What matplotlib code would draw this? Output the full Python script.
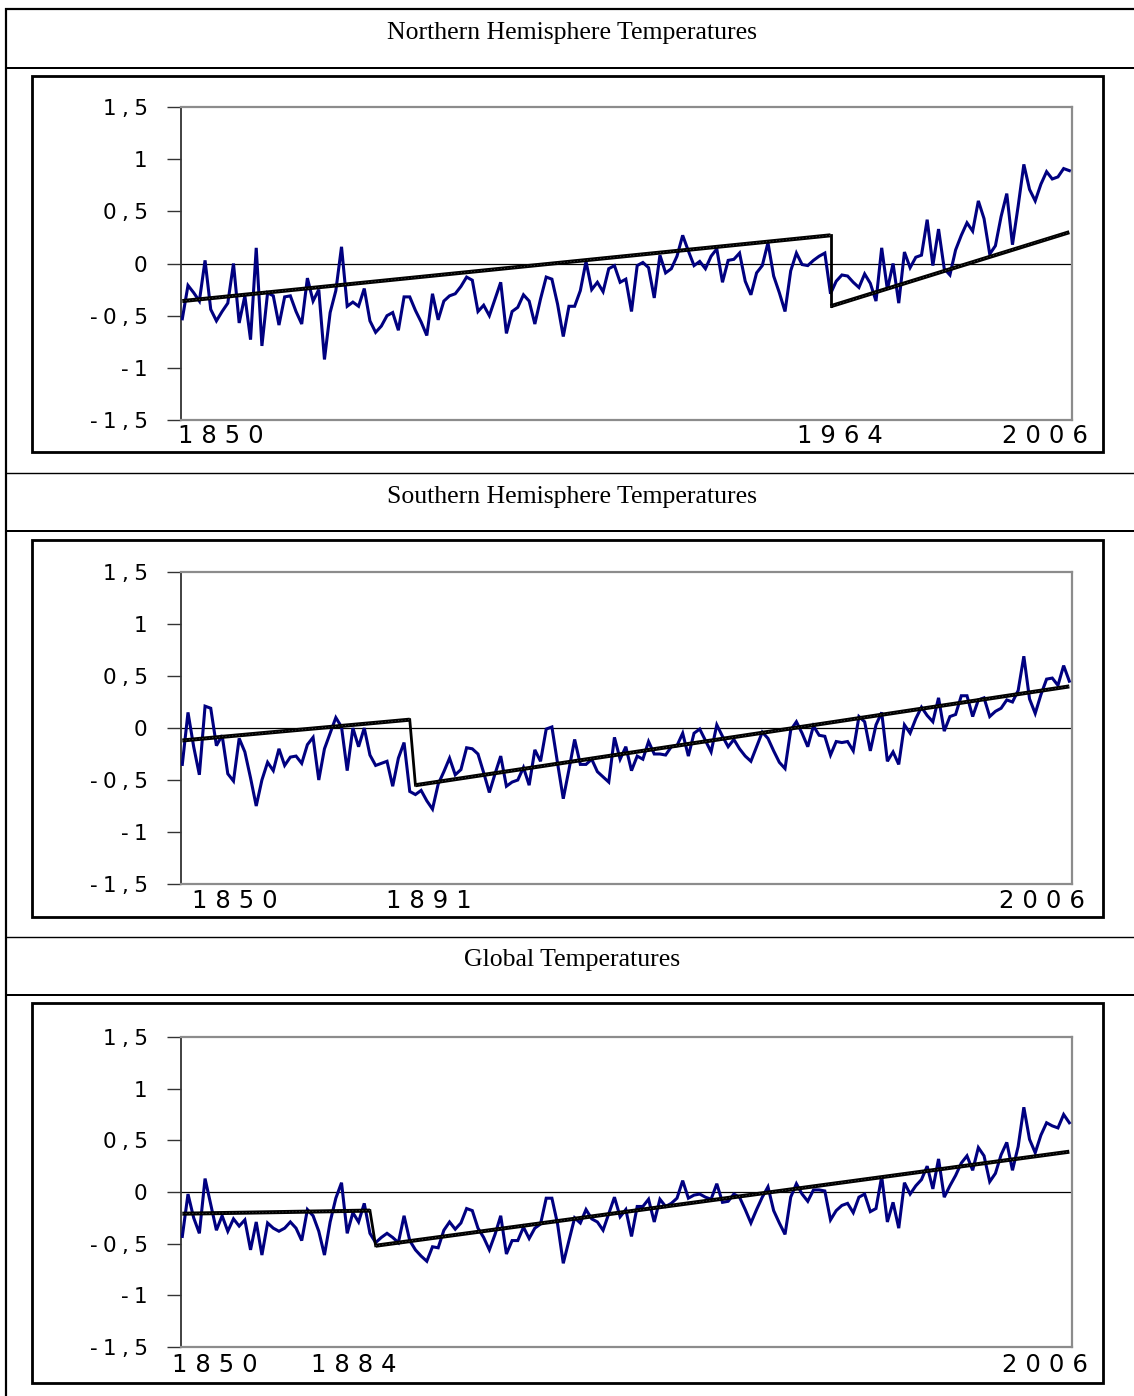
import matplotlib
matplotlib.use("Agg")
import matplotlib.pyplot as plt
from matplotlib.lines import Line2D
from matplotlib.patches import Rectangle

# ---------------- data ----------------
years = list(range(1850, 2007))

nh = [-0.53, -0.21, -0.28, -0.36, 0.03, -0.44, -0.55, -0.46, -0.38, 0.00,
      -0.57, -0.31, -0.73, 0.15, -0.79, -0.28, -0.31, -0.59, -0.32, -0.31,
      -0.46, -0.58, -0.14, -0.36, -0.25, -0.92, -0.47, -0.26, 0.16, -0.41,
      -0.37, -0.41, -0.24, -0.55, -0.66, -0.60, -0.50, -0.47, -0.64, -0.32,
      -0.32, -0.45, -0.56, -0.69, -0.29, -0.54, -0.36, -0.31, -0.29, -0.22,
      -0.13, -0.16, -0.46,
      -0.40, -0.50, -0.34, -0.18, -0.67, -0.46, -0.42, -0.30, -0.36, -0.58,
      -0.34, -0.13, -0.15, -0.39, -0.70, -0.41, -0.41, -0.26, 0.02, -0.25,
      -0.18, -0.27, -0.05, -0.02, -0.18, -0.15, -0.46, -0.02, 0.01, -0.04,
      -0.33, 0.08, -0.09, -0.05, 0.07, 0.27, 0.12, -0.02, 0.02, -0.05,
      0.07, 0.14, -0.18, 0.03, 0.04, 0.10, -0.17, -0.30, -0.09, -0.02,
      0.20, -0.12, -0.28,
      -0.46, -0.07, 0.10, -0.01, -0.02, 0.03, 0.07, 0.10, -0.29, -0.17,
      -0.11, -0.12, -0.18, -0.23, -0.10, -0.19, -0.36, 0.15, -0.25, 0.00,
      -0.38, 0.11, -0.04, 0.06, 0.08, 0.42, -0.02, 0.33, -0.05, -0.11,
      0.13, 0.27, 0.39, 0.31, 0.60, 0.43, 0.09, 0.17, 0.45, 0.67,
      0.18, 0.55, 0.95, 0.71, 0.60, 0.76, 0.88, 0.81, 0.83, 0.91,
      0.89]

sh = [-0.35, 0.15, -0.18, -0.45, 0.21, 0.19, -0.17, -0.07, -0.44, -0.51,
      -0.10, -0.23, -0.48, -0.75, -0.50, -0.33, -0.41, -0.20, -0.36, -0.28,
      -0.27, -0.34, -0.16, -0.09, -0.50, -0.20, -0.05, 0.10, 0.01, -0.41,
      0.00, -0.18, 0.00, -0.26, -0.36, -0.34, -0.32, -0.56, -0.29, -0.14,
      -0.61, -0.64, -0.60, -0.70, -0.78, -0.54, -0.42, -0.29, -0.45, -0.40,
      -0.19, -0.20, -0.25,
      -0.43, -0.62, -0.44, -0.27, -0.56, -0.52, -0.50, -0.38, -0.55, -0.21,
      -0.32, -0.01, 0.01, -0.34, -0.68, -0.40, -0.11, -0.35, -0.35, -0.30,
      -0.42, -0.47, -0.52, -0.09, -0.30, -0.18, -0.41, -0.27, -0.30, -0.13,
      -0.25, -0.25, -0.26, -0.18, -0.17, -0.05, -0.27, -0.05, -0.01, -0.12,
      -0.23, 0.03, -0.08, -0.18, -0.11, -0.20, -0.27, -0.32, -0.18, -0.04,
      -0.10, -0.22, -0.33,
      -0.39, -0.02, 0.06, -0.05, -0.18, 0.02, -0.07, -0.08, -0.26, -0.13,
      -0.14, -0.13, -0.22, 0.11, 0.06, -0.22, 0.03, 0.15, -0.32, -0.23,
      -0.35, 0.03, -0.05, 0.09, 0.20, 0.12, 0.06, 0.29, -0.03, 0.11,
      0.13, 0.31, 0.31, 0.11, 0.27, 0.29, 0.11, 0.16, 0.19, 0.27,
      0.25, 0.36, 0.69, 0.28, 0.14, 0.32, 0.47, 0.48, 0.41, 0.60,
      0.45]

gl = [-0.43, -0.02, -0.25, -0.40, 0.13, -0.12, -0.37, -0.23, -0.38, -0.26,
      -0.33, -0.27, -0.56, -0.29, -0.61, -0.30, -0.35, -0.38, -0.35, -0.29,
      -0.35, -0.47, -0.17, -0.23, -0.38, -0.61, -0.29, -0.06, 0.09, -0.40,
      -0.20, -0.29, -0.11, -0.40, -0.49, -0.44, -0.40, -0.44, -0.49, -0.23,
      -0.47, -0.56, -0.62, -0.67, -0.53, -0.54, -0.37, -0.29, -0.36, -0.30,
      -0.16, -0.18, -0.35,
      -0.44, -0.56, -0.41, -0.23, -0.60, -0.47, -0.47, -0.34, -0.45, -0.35,
      -0.31, -0.06, -0.06, -0.31, -0.69, -0.47, -0.25, -0.30, -0.17, -0.26,
      -0.29, -0.37, -0.21, -0.05, -0.24, -0.17, -0.43, -0.14, -0.14, -0.07,
      -0.29, -0.07, -0.14, -0.11, -0.06, 0.11, -0.06, -0.03, -0.02, -0.05,
      -0.07, 0.08, -0.10, -0.09, -0.02, -0.05, -0.17, -0.30, -0.17, -0.05,
      0.05, -0.18, -0.30,
      -0.41, -0.05, 0.08, -0.02, -0.09, 0.02, 0.02, 0.01, -0.27, -0.18,
      -0.13, -0.11, -0.20, -0.05, -0.02, -0.19, -0.16, 0.15, -0.29, -0.10,
      -0.35, 0.09, -0.02, 0.06, 0.12, 0.25, 0.03, 0.32, -0.05, 0.06,
      0.16, 0.28, 0.35, 0.21, 0.43, 0.35, 0.10, 0.18, 0.36, 0.48,
      0.21, 0.44, 0.82, 0.51, 0.38, 0.55, 0.67, 0.64, 0.62, 0.75,
      0.67]

# trend (structural break) lines: breakpoints
nh_trend_x = [1850, 1964, 1964, 2006]
nh_trend_y = [-0.36, 0.27, -0.41, 0.30]
sh_trend_x = [1850, 1890, 1891, 2006]
sh_trend_y = [-0.12, 0.08, -0.55, 0.40]
gl_trend_x = [1850, 1883, 1884, 2006]
gl_trend_y = [-0.21, -0.18, -0.52, 0.39]

titles = ["Northern Hemisphere Temperatures",
          "Southern Hemisphere Temperatures",
          "Global Temperatures"]
year_labels = [["1850", "1964", "2006"],
               ["1850", "1891", "2006"],
               ["1850", "1884", "2006"]]
y_ticks = [1.5, 1.0, 0.5, 0.0, -0.5, -1.0, -1.5]
y_tick_labels = ["1,5", "1", "0,5", "0", "-0,5", "-1", "-1,5"]

# ---------------- layout (pixels) ----------------
W, H = 1134, 1396
fig = plt.figure(figsize=(W / 100, H / 100), dpi=100)
fig.patch.set_facecolor("white")


def fx(x):
    return x / W


def fy(y):
    return 1 - y / H


def hline(y, x0, x1, lwpx):
    fig.add_artist(Line2D([fx(x0), fx(x1)], [fy(y), fy(y)], color="black",
                          lw=lwpx * 0.72, transform=fig.transFigure,
                          solid_capstyle="butt"))


def vline(x, y0, y1, lwpx):
    fig.add_artist(Line2D([fx(x), fx(x)], [fy(y0), fy(y1)], color="black",
                          lw=lwpx * 0.72, transform=fig.transFigure,
                          solid_capstyle="butt"))


def spaced(s, sp):
    return sp.join(list(s))


# table lines
hline(9, 5, W, 2.2)
vline(6, 8, H, 2.2)
for y, lw in [(68, 2.0), (473, 1.4), (531, 2.0), (937, 1.4), (995, 2.0)]:
    hline(y, 5, W, lw)

panels = [
    dict(title_y=33, box=(32, 76, 1103, 452), ax=(181, 107, 1072, 420),
         lab_y=436, lab_x=[221, 840, 1045],
         series=nh, tx=nh_trend_x, ty=nh_trend_y),
    dict(title_y=497, box=(32, 540, 1103, 917), ax=(181, 572, 1072, 884),
         lab_y=901, lab_x=[235, 429, 1042],
         series=sh, tx=sh_trend_x, ty=sh_trend_y),
    dict(title_y=960, box=(32, 1003, 1103, 1383), ax=(181, 1037, 1072, 1347),
         lab_y=1365, lab_x=[215, 354, 1045],
         series=gl, tx=gl_trend_x, ty=gl_trend_y),
]

for i, p in enumerate(panels):
    fig.text(fx(572), fy(p["title_y"]), titles[i], ha="center", va="center",
             fontsize=18.5, family="Liberation Serif", color="black")
    bx0, by0, bx1, by1 = p["box"]
    fig.add_artist(Rectangle((fx(bx0), fy(by1)), fx(bx1) - fx(bx0),
                             fy(by0) - fy(by1), fill=False, edgecolor="black",
                             lw=2.8 * 0.72, transform=fig.transFigure))
    ax0, ay0, ax1, ay1 = p["ax"]
    ax = fig.add_axes([fx(ax0), fy(ay1), fx(ax1) - fx(ax0), fy(ay0) - fy(ay1)])
    ax.set_xlim(1849.77, 2006.47)
    ax.set_ylim(-1.5, 1.5)
    ax.axhline(0, color="black", lw=0.9, zorder=1)
    ax.plot(years, p["series"], color="#000080", lw=2.2, zorder=3,
            solid_joinstyle="miter")
    tx, ty = p["tx"], p["ty"]
    # rising segments: thick black with faint flecks; break: plain black
    for a, b in [(0, 2), (2, 4)]:
        ax.plot(tx[a:b], ty[a:b], color="black", lw=2.9, zorder=4,
                solid_capstyle="butt")
        ax.plot(tx[a:b], ty[a:b], color="#6e6e6e", lw=0.4, zorder=5,
                dashes=(2, 4))
    ax.plot(tx[1:3], ty[1:3], color="black", lw=2.0, zorder=4)

    ax.set_xticks([])
    ax.set_yticks(y_ticks)
    ax.set_yticklabels([spaced(s, "\u2005") for s in y_tick_labels],
                       fontsize=15.5, family="DejaVu Sans")
    ax.tick_params(axis="y", direction="out", length=10, width=1.0,
                   pad=14, color="#333333")
    for side in ["top", "right", "bottom"]:
        ax.spines[side].set_color("#8c8c8c")
        ax.spines[side].set_linewidth(1.6)
    ax.spines["left"].set_color("#333333")
    ax.spines["left"].set_linewidth(1.3)

    for lbl, lx in zip(year_labels[i], p["lab_x"]):
        fig.text(fx(lx), fy(p["lab_y"]), spaced(lbl, "\u2004"), ha="center",
                 va="center", fontsize=17.5, family="DejaVu Sans",
                 color="black")

fig.savefig("out.png", dpi=100, facecolor="white")
